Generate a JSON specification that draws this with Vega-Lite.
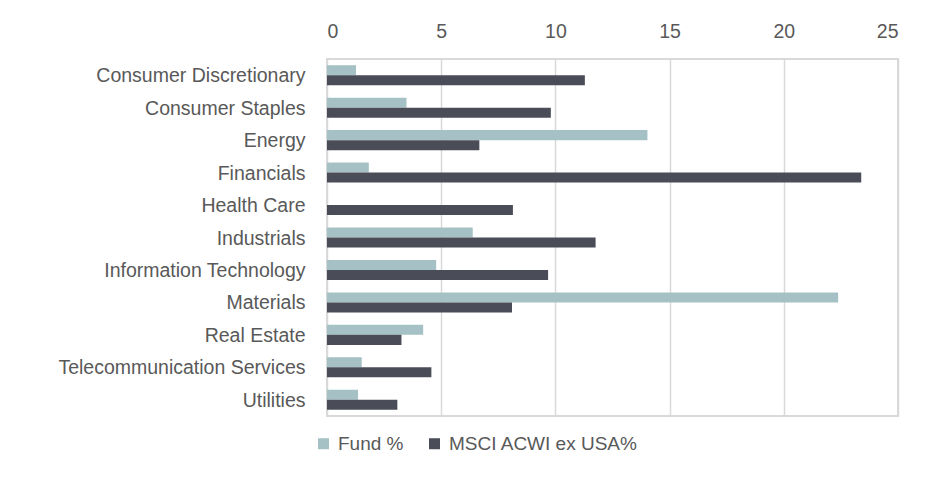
{
  "$schema": "https://vega.github.io/schema/vega-lite/v6.json",
  "width": 571,
  "height": 357,
  "autosize": {"type": "none"},
  "padding": {"left": 327, "top": 59, "right": 45, "bottom": 63},
  "background": "white",
  "config": {
    "view": {"stroke": "#D9D9D9", "strokeWidth": 2},
    "font": "Liberation Sans"
  },
  "data": {
    "values": [
      {"sector": "Consumer Discretionary", "series": "Fund %", "value": 1.27},
      {"sector": "Consumer Discretionary", "series": "MSCI ACWI ex USA%", "value": 11.29},
      {"sector": "Consumer Staples", "series": "Fund %", "value": 3.48},
      {"sector": "Consumer Staples", "series": "MSCI ACWI ex USA%", "value": 9.8},
      {"sector": "Energy", "series": "Fund %", "value": 14.03},
      {"sector": "Energy", "series": "MSCI ACWI ex USA%", "value": 6.67},
      {"sector": "Financials", "series": "Fund %", "value": 1.83},
      {"sector": "Financials", "series": "MSCI ACWI ex USA%", "value": 23.39},
      {"sector": "Health Care", "series": "Fund %", "value": 0},
      {"sector": "Health Care", "series": "MSCI ACWI ex USA%", "value": 8.14},
      {"sector": "Industrials", "series": "Fund %", "value": 6.38},
      {"sector": "Industrials", "series": "MSCI ACWI ex USA%", "value": 11.76},
      {"sector": "Information Technology", "series": "Fund %", "value": 4.78},
      {"sector": "Information Technology", "series": "MSCI ACWI ex USA%", "value": 9.68},
      {"sector": "Materials", "series": "Fund %", "value": 22.38},
      {"sector": "Materials", "series": "MSCI ACWI ex USA%", "value": 8.1},
      {"sector": "Real Estate", "series": "Fund %", "value": 4.21},
      {"sector": "Real Estate", "series": "MSCI ACWI ex USA%", "value": 3.26},
      {"sector": "Telecommunication Services", "series": "Fund %", "value": 1.52},
      {"sector": "Telecommunication Services", "series": "MSCI ACWI ex USA%", "value": 4.57},
      {"sector": "Utilities", "series": "Fund %", "value": 1.36},
      {"sector": "Utilities", "series": "MSCI ACWI ex USA%", "value": 3.08}
    ]
  },
  "mark": {"type": "bar"},
  "encoding": {
    "y": {
      "field": "sector",
      "type": "nominal",
      "sort": null,
      "scale": {"paddingInner": 0, "paddingOuter": 0},
      "axis": {
        "title": null,
        "domain": false,
        "ticks": false,
        "labelPadding": 22,
        "labelFontSize": 19.5,
        "labelColor": "#595959",
        "labelLimit": 400,
        "labelOffset": 1
      }
    },
    "yOffset": {
      "field": "series",
      "type": "nominal",
      "sort": ["Fund %", "MSCI ACWI ex USA%"],
      "scale": {"paddingInner": 0, "paddingOuter": 0.62}
    },
    "x": {
      "field": "value",
      "type": "quantitative",
      "scale": {"domain": [0, 25], "nice": false},
      "axis": {
        "orient": "top",
        "title": null,
        "values": [0, 5, 10, 15, 20, 25],
        "domain": false,
        "ticks": false,
        "grid": true,
        "gridColor": "#D9D9D9",
        "gridWidth": 1.5,
        "labelPadding": 18,
        "labelFontSize": 19.5,
        "labelColor": "#595959"
      }
    },
    "color": {
      "field": "series",
      "type": "nominal",
      "scale": {"domain": ["Fund %", "MSCI ACWI ex USA%"], "range": ["#A5C1C5", "#4A4D57"]},
      "legend": {
        "title": null,
        "orient": "none",
        "direction": "horizontal",
        "legendX": -13,
        "legendY": 375,
        "symbolType": "square",
        "symbolSize": 121,
        "symbolStrokeWidth": 0,
        "labelFontSize": 19,
        "labelColor": "#595959",
        "labelOffset": 5,
        "labelLimit": 400,
        "columnPadding": 21
      }
    }
  }
}
